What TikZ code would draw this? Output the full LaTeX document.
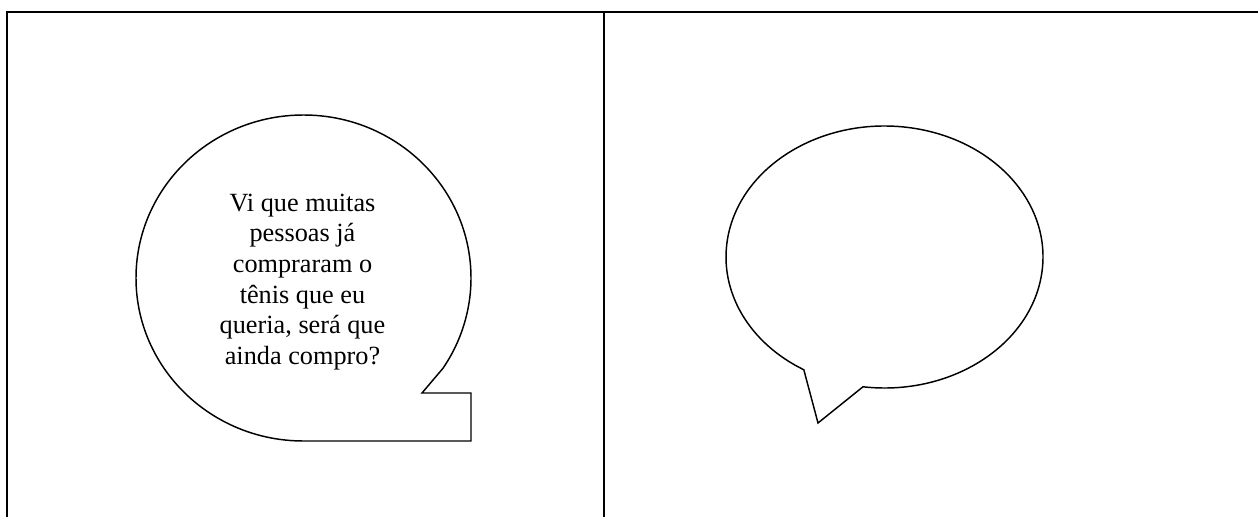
\documentclass[tikz,border=0pt]{standalone}
\usepackage{fontspec}
\setmainfont{Liberation Serif}
\begin{document}
\begin{tikzpicture}[x=0.75pt,y=-0.75pt,
  frame/.style={line width=1.9pt,line cap=butt},
  bubble/.style={line width=1.1pt,line join=miter},
  speech/.style={align=center,inner sep=0pt,font=\fontsize{19.7}{23}\selectfont}]
\useasboundingbox (0,0) rectangle (1258,517);
% frame
\draw[frame] (7,517) -- (7,12) -- (1258,12);
\draw[frame] (604,12) -- (604,517);
% left bubble
\draw[bubble] (303.5,441) arc[start angle=90,end angle=393.7,x radius=167.5,y radius=163]
  -- (422,393) -- (471,393) -- (471,441) -- cycle;
\node[speech] (txt) at (302.5,282) {Vi que muitas\\pessoas já\\compraram o\\tênis que eu\\queria, será que\\ainda compro?};
% right bubble
\draw[bubble] (884.5,257) ++(97.8:158.5 and 131)
  arc[start angle=97.8,end angle=-239.4,x radius=158.5,y radius=131]
  -- (818,423) -- cycle;
\end{tikzpicture}
\end{document}
